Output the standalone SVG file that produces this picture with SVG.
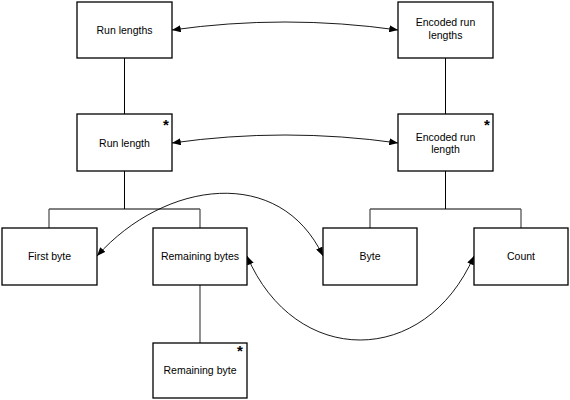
<svg xmlns="http://www.w3.org/2000/svg" width="570" height="400" viewBox="0 0 570 400">
<style>
.box{fill:#fff;stroke:#000;stroke-width:1.3}
.lbl{font-family:"Liberation Sans",Arial,sans-serif;font-size:10.5px;fill:#000;text-anchor:middle}
.star{font-family:"Liberation Sans",Arial,sans-serif;font-size:15px;font-weight:bold;fill:#000;text-anchor:middle}
.tree{fill:none;stroke:#000;stroke-width:1}
.tree2{fill:none;stroke:#555;stroke-width:1.3}
.arc{fill:none;stroke:#000;stroke-width:0.9;marker-start:url(#ah);marker-end:url(#ah)}
</style>
<defs>
<marker id="ah" viewBox="0 0 10 8" refX="10" refY="4" markerWidth="9" markerHeight="7" markerUnits="userSpaceOnUse" orient="auto-start-reverse">
<path d="M0,0 L10,4 L0,8 Z" fill="#000"/>
</marker>
</defs>
<rect width="570" height="400" fill="#fff"/>
<g id="connectors">
<line class="tree" x1="124.5" y1="58" x2="124.5" y2="114"/>
<line class="tree" x1="445.5" y1="58" x2="445.5" y2="114"/>
<line class="tree" x1="124.5" y1="171" x2="124.5" y2="209"/>
<line class="tree" x1="49" y1="209" x2="200" y2="209"/>
<line class="tree2" x1="49" y1="209" x2="49" y2="228"/>
<line class="tree2" x1="200" y1="209" x2="200" y2="228"/>
<line class="tree" x1="445.5" y1="171" x2="445.5" y2="209"/>
<line class="tree" x1="370" y1="209" x2="521" y2="209"/>
<line class="tree2" x1="370" y1="209" x2="370" y2="228"/>
<line class="tree2" x1="521" y1="209" x2="521" y2="228"/>
<line class="tree2" x1="200" y1="285" x2="200" y2="343"/>
<path class="arc" d="M172,30 Q285,14 398,30"/>
<path class="arc" d="M172,143 Q285,127 398,143"/>
<path class="arc" d="M97,256 C165,180 280,165 323,256"/>
<path class="arc" d="M247,256 C295,368 425,368 474,256"/>
</g>
<g id="run-lengths">
<rect class="box" x="77" y="2" width="95" height="56"/>
<text class="lbl" x="124.5" y="34">Run lengths</text>
</g>
<g id="encoded-run-lengths">
<rect class="box" x="398" y="2" width="95" height="56"/>
<text class="lbl" x="445.5" y="26">Encoded run</text>
<text class="lbl" x="445.5" y="39">lengths</text>
</g>
<g id="run-length">
<rect class="box" x="77" y="114" width="95" height="57"/>
<text class="lbl" x="124.5" y="147">Run length</text>
<text class="star" x="166" y="130">*</text>
</g>
<g id="encoded-run-length">
<rect class="box" x="398" y="114" width="95" height="57"/>
<text class="lbl" x="445.5" y="141">Encoded run</text>
<text class="lbl" x="445.5" y="153">length</text>
<text class="star" x="487" y="130">*</text>
</g>
<g id="first-byte">
<rect class="box" x="2" y="228" width="95" height="57"/>
<text class="lbl" x="49.5" y="260">First byte</text>
</g>
<g id="remaining-bytes">
<rect class="box" x="153" y="228" width="94" height="57"/>
<text class="lbl" x="200" y="260">Remaining bytes</text>
</g>
<g id="byte">
<rect class="box" x="323" y="228" width="94" height="57"/>
<text class="lbl" x="370" y="260">Byte</text>
</g>
<g id="count">
<rect class="box" x="474" y="228" width="94" height="57"/>
<text class="lbl" x="521" y="260">Count</text>
</g>
<g id="remaining-byte">
<rect class="box" x="153" y="343" width="94" height="55"/>
<text class="lbl" x="200" y="374">Remaining byte</text>
<text class="star" x="240" y="356">*</text>
</g>
</svg>
